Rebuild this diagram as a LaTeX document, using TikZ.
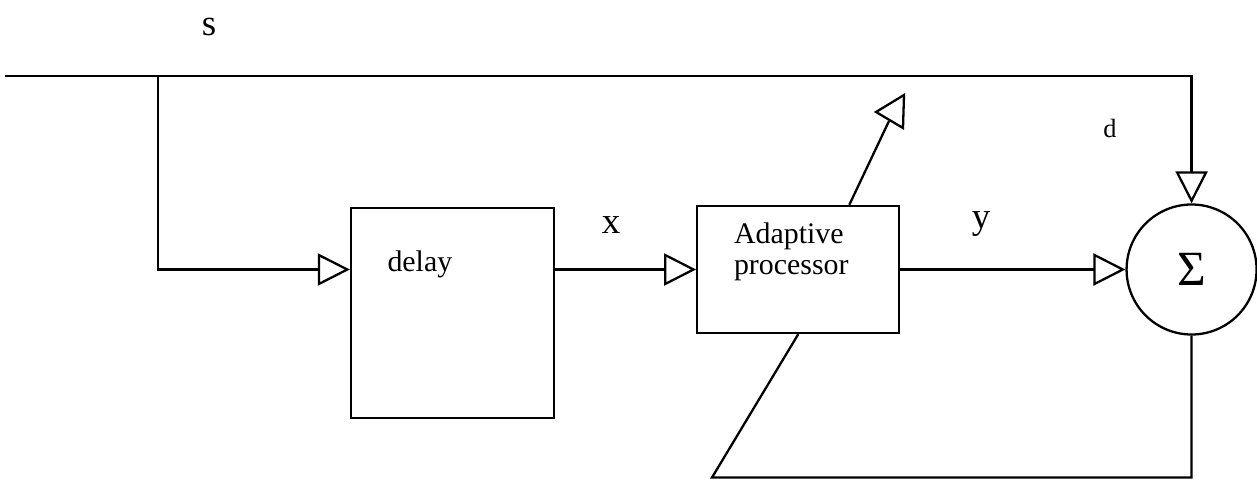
\documentclass[tikz,border=0pt]{standalone}
\usepackage{fontspec}
\setmainfont{Liberation Serif}
\usepackage{tikz}
\usetikzlibrary{positioning,arrows.meta}

\begin{document}
\begin{tikzpicture}[line width=1.3pt,
	blockbox/.style={draw, fill=white, inner sep=0pt},
	sumnode/.style={draw, circle, inner sep=0pt, minimum size=2.6cm, font=\fontsize{28}{30}\selectfont},
	sig/.style={-{Triangle[open,length=0.64cm,width=0.64cm]}},
	txt/.style={inner sep=0pt, font=\fontsize{17}{17.6}\selectfont},
	sym/.style={inner sep=0pt, font=\fontsize{21}{23}\selectfont}]
	\useasboundingbox (0,0) rectangle (25.14,9.6);

	% Define nodes
	\node[blockbox, minimum width=4.06cm, minimum height=4.2cm] (delay) at (9.05,3.34) {};
	\node[blockbox, right=2.82cm of delay, yshift=0.87cm, minimum width=4.04cm, minimum height=2.54cm] (proc) {};
	\node[sumnode, right=4.5cm of proc] (sum) {Σ};
	\node[txt] (delaytxt) at ([xshift=1.4cm,yshift=-1.14cm]delay.north west) {delay};
	\node[txt, align=left] (proctxt) at ([xshift=-0.14cm,yshift=0.35cm]proc.center) {Adaptive\\processor};

	\coordinate (sin) at (0.1,8.08);
	\coordinate (tap) at (3.16,8.08);
	\coordinate (fbend) at (14.24,0.05);
	\coordinate (aw) at (17.78,7.18);

	% Labels
	\node[sym] (slbl) at (4.18,9.06) {s};
	\node[sym] (xlbl) at (12.22,5.1) {x};
	\node[sym] (ylbl) at (19.62,5.12) {y};
	\node[inner sep=0pt, font=\fontsize{15}{17}\selectfont] (dlbl) at (22.2,7.04) {d};

	% Connect the nodes
	\draw[sig] (sin) -| (sum.north);
	\draw[sig] (tap) |- (delay.west |- proc.west);
	\draw[sig] (delay.east |- proc.west) -- (proc.west);
	\draw[sig] (proc.east) -- (sum.west);
	\draw (sum.south) |- (fbend) -- (proc.south);
	\draw ([xshift=1.02cm]proc.north) -- (aw);
	\draw[line join=miter] (17.52,7.36) -- (18.08,7.70) -- (18.06,7.04) -- cycle;
\end{tikzpicture}
\end{document}
